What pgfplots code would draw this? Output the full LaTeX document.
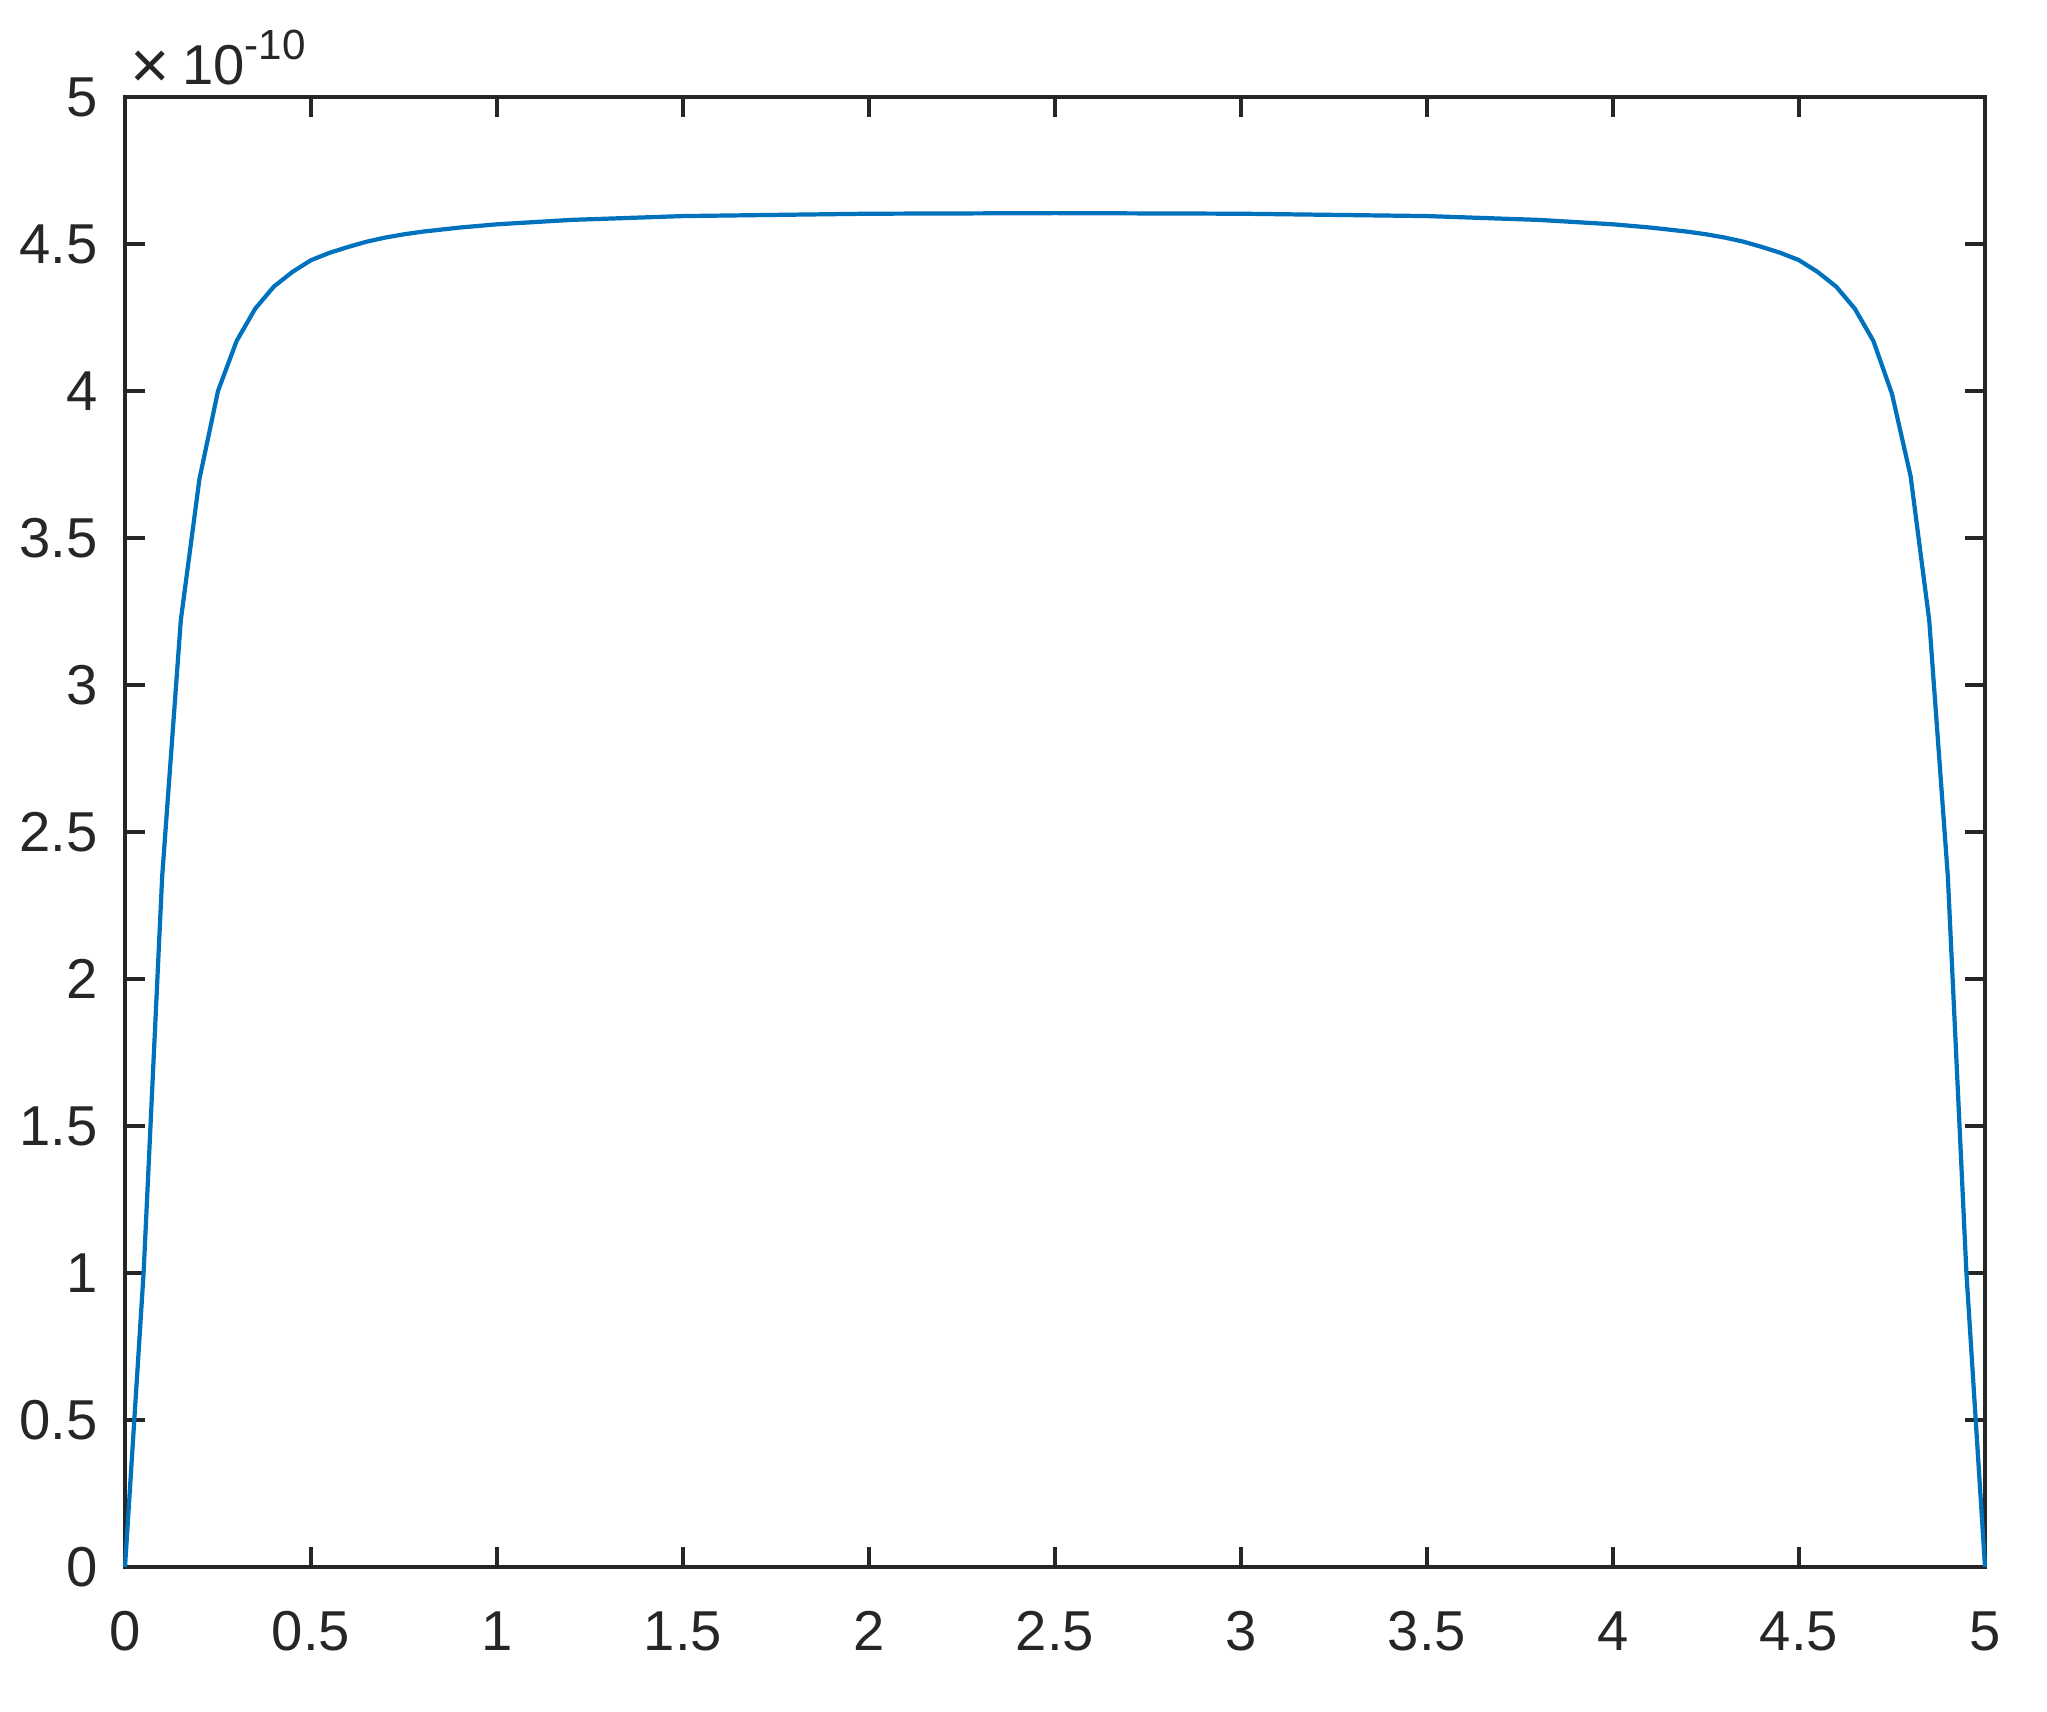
\documentclass[border=0pt]{standalone}
\usepackage{fontspec}
\setmainfont{Liberation Sans}
\usepackage{pgfplots}
\pgfplotsset{compat=1.18}

\definecolor{mblue}{rgb}{0,0.447,0.741}
\definecolor{maxis}{rgb}{0.15,0.15,0.15}

\begin{document}
\begin{tikzpicture}
  \path[use as bounding box] (0,0) rectangle (20.47cm,17.11cm);
  \begin{axis}[
    at={(1.25cm,1.44cm)}, anchor=south west,
    scale only axis,
    width=18.6cm, height=14.7cm,
    xmin=0, xmax=5,
    ymin=0, ymax=5e-10,
    xtick={0,0.5,1,1.5,2,2.5,3,3.5,4,4.5,5},
    xticklabels={0,0.5,1,1.5,2,2.5,3,3.5,4,4.5,5},
    ytick={0,0.5e-10,1e-10,1.5e-10,2e-10,2.5e-10,3e-10,3.5e-10,4e-10,4.5e-10,5e-10},
    yticklabels={0,0.5,1,1.5,2,2.5,3,3.5,4,4.5,5},
    scaled y ticks=false,
    tick align=inside, tick pos=both,
    major tick length=0.2cm,
    axis line style={maxis, line width=0.95pt},
    every tick/.style={maxis, line width=0.95pt},
    tick label style={font=\fontsize{16}{19}\selectfont, text=maxis, inner sep=0pt},
    xticklabel style={anchor=north, yshift=-0.44cm},
    yticklabel style={anchor=east, xshift=-0.27cm},
    clip=false,
  ]
    % values in units of 1e-10
    \addplot[mblue, line width=1.2pt] coordinates {
      (0,0) (0.05,1.00e-10) (0.1,2.35e-10) (0.15,3.22e-10) (0.2,3.70e-10)
      (0.25,4.00e-10) (0.3,4.17e-10) (0.35,4.28e-10) (0.4,4.355e-10)
      (0.45,4.405e-10) (0.5,4.445e-10) (0.55,4.47e-10) (0.6,4.49e-10)
      (0.65,4.508e-10) (0.7,4.522e-10) (0.75,4.533e-10) (0.8,4.542e-10)
      (0.9,4.556e-10) (1.0,4.567e-10) (1.2,4.582e-10) (1.5,4.595e-10)
      (2.0,4.603e-10) (2.5,4.605e-10) (3.0,4.603e-10) (3.5,4.595e-10)
      (3.8,4.582e-10) (4.0,4.567e-10) (4.1,4.556e-10) (4.2,4.542e-10)
      (4.25,4.533e-10) (4.3,4.522e-10) (4.35,4.508e-10) (4.4,4.49e-10)
      (4.45,4.47e-10) (4.5,4.445e-10) (4.55,4.405e-10) (4.6,4.355e-10)
      (4.65,4.28e-10) (4.7,4.17e-10) (4.75,3.99e-10) (4.8,3.71e-10)
      (4.85,3.22e-10) (4.9,2.35e-10) (4.95,1.00e-10) (5,0)
    };
    \node[anchor=base west, inner sep=0pt, text=maxis, xshift=0.05cm, yshift=0.13cm]
      at (rel axis cs:0,1)
      {\fontsize{16}{19}\selectfont \raisebox{-0.04cm}{\scalebox{1.2}{×}}\hspace{0.12cm}10\raisebox{0.25cm}{\fontsize{12}{14}\selectfont -10}};
  \end{axis}
\end{tikzpicture}
\end{document}
